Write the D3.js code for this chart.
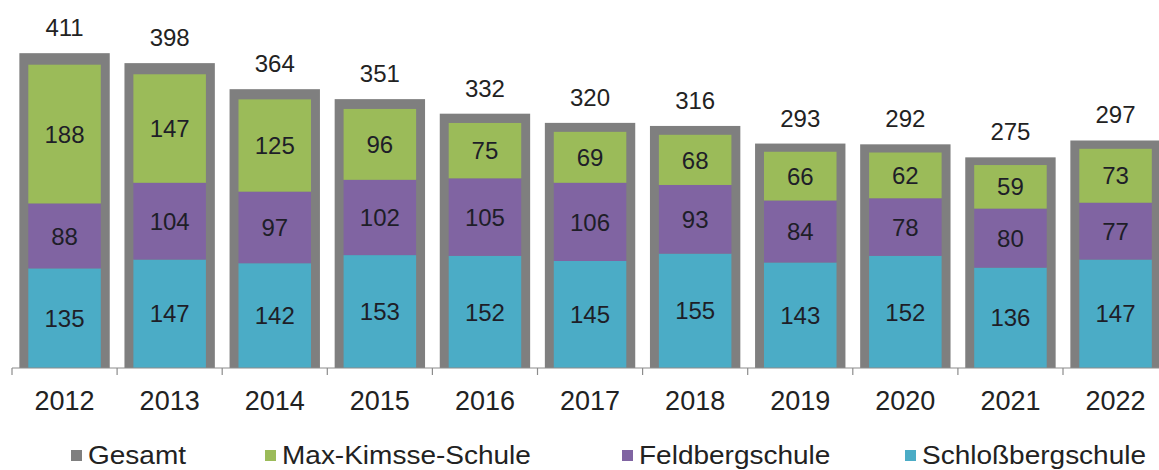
<!DOCTYPE html>
<html>
<head>
<meta charset="utf-8">
<script src="https://cdn.jsdelivr.net/npm/d3@7"></script>
<style>
  body { margin: 0; background: #fff; }
  text { font-family: "Liberation Sans", Arial, sans-serif; }
</style>
</head>
<body>
<div id="chart"></div>
<script>
var years = ["2012", "2013", "2014", "2015", "2016", "2017", "2018", "2019", "2020", "2021", "2022"];
var gesamt = [411, 398, 364, 351, 332, 320, 316, 293, 292, 275, 297];
var schloss = [135, 147, 142, 153, 152, 145, 155, 143, 152, 136, 147];
var feldberg = [88, 104, 97, 102, 105, 106, 93, 84, 78, 80, 77];
var kimsse = [188, 147, 125, 96, 75, 69, 68, 66, 62, 59, 73];
var seriesNames = ["Gesamt", "Max-Kimsse-Schule", "Feldbergschule", "Schloßbergschule"];
var colors = ["#7f7f7f", "#9bbb59", "#8064a2", "#4bacc6"];

var width = 1159, height = 470,
    baseY = 368;

var svg = d3.select("#chart").append("svg")
    .attr("width", width)
    .attr("height", height);

var x = d3.scaleBand()
    .domain(years)
    .range([12, 12 + 105.1 * years.length]);

// Gesamt sits on its own (secondary) axis, slightly taller than the stack
var yG = d3.scaleLinear().domain([0, 450]).range([baseY, baseY - 0.766 * 450]);
var yS = d3.scaleLinear().domain([0, 450]).range([baseY, baseY - 0.738 * 450]);

var gW = x.bandwidth() * 0.86,
    sW = x.bandwidth() * 0.69;

var rows = years.map(function(y, i) {
  return {year: y, gesamt: gesamt[i], schloss: schloss[i], feldberg: feldberg[i], kimsse: kimsse[i]};
});

// gray total bars
svg.selectAll(".total")
    .data(rows)
  .enter().append("rect")
    .attr("class", "total")
    .attr("x", function(d) { return x(d.year) + (x.bandwidth() - gW) / 2; })
    .attr("y", function(d) { return yG(d.gesamt); })
    .attr("width", gW)
    .attr("height", function(d) { return baseY - yG(d.gesamt); })
    .attr("fill", colors[0]);

var stack = d3.stack().keys(["schloss", "feldberg", "kimsse"])(rows);
var stackColors = {schloss: colors[3], feldberg: colors[2], kimsse: colors[1]};

var layer = svg.selectAll(".layer")
    .data(stack)
  .enter().append("g")
    .attr("class", "layer")
    .attr("fill", function(d) { return stackColors[d.key]; });

layer.selectAll("rect")
    .data(function(d) { return d; })
  .enter().append("rect")
    .attr("x", function(d) { return x(d.data.year) + (x.bandwidth() - sW) / 2; })
    .attr("y", function(d) { return yS(d[1]); })
    .attr("width", sW)
    .attr("height", function(d) { return yS(d[0]) - yS(d[1]); });

layer.selectAll("text")
    .data(function(d) { return d; })
  .enter().append("text")
    .attr("x", function(d) { return x(d.data.year) + x.bandwidth() / 2; })
    .attr("y", function(d) { return (yS(d[0]) + yS(d[1])) / 2; })
    .attr("dy", "0.36em")
    .attr("text-anchor", "middle")
    .attr("font-size", 24)
    .attr("fill", "#1e1e28")
    .text(function(d) { return d[1] - d[0]; });

// total labels
svg.selectAll(".tlabel")
    .data(rows)
  .enter().append("text")
    .attr("class", "tlabel")
    .attr("x", function(d) { return x(d.year) + x.bandwidth() / 2; })
    .attr("y", function(d) { return yG(d.gesamt) - 17; })
    .attr("text-anchor", "middle")
    .attr("font-size", 24)
    .attr("fill", "#222")
    .text(function(d) { return d.gesamt; });

// x axis
var axis = svg.append("g")
    .attr("transform", "translate(0," + baseY + ")");
axis.append("line")
    .attr("x1", 12).attr("x2", width)
    .attr("stroke", "#8c8c8c").attr("stroke-width", 1.2);
axis.selectAll(".tick")
    .data(years)
  .enter().append("line")
    .attr("x1", function(d) { return x(d); })
    .attr("x2", function(d) { return x(d); })
    .attr("y1", 0).attr("y2", 7)
    .attr("stroke", "#8c8c8c").attr("stroke-width", 1.2);
axis.selectAll(".xlabel")
    .data(years)
  .enter().append("text")
    .attr("x", function(d) { return x(d) + x.bandwidth() / 2; })
    .attr("y", 42)
    .attr("text-anchor", "middle")
    .attr("font-size", 27)
    .attr("fill", "#222")
    .text(function(d) { return d; });

// legend
var legendX = [71, 265, 622, 905];
var legend = svg.selectAll(".legend")
    .data(seriesNames)
  .enter().append("g")
    .attr("class", "legend")
    .attr("transform", function(d, i) { return "translate(" + legendX[i] + ",455)"; });
legend.append("rect")
    .attr("x", 0).attr("y", -5)
    .attr("width", 11).attr("height", 11)
    .attr("fill", function(d, i) { return colors[i]; });
legend.append("text")
    .attr("transform", "translate(17,0) scale(1.12,1)")
    .attr("dy", "0.36em")
    .attr("font-size", 25)
    .attr("fill", "#222")
    .text(function(d) { return d; });
</script>
</body>
</html>
